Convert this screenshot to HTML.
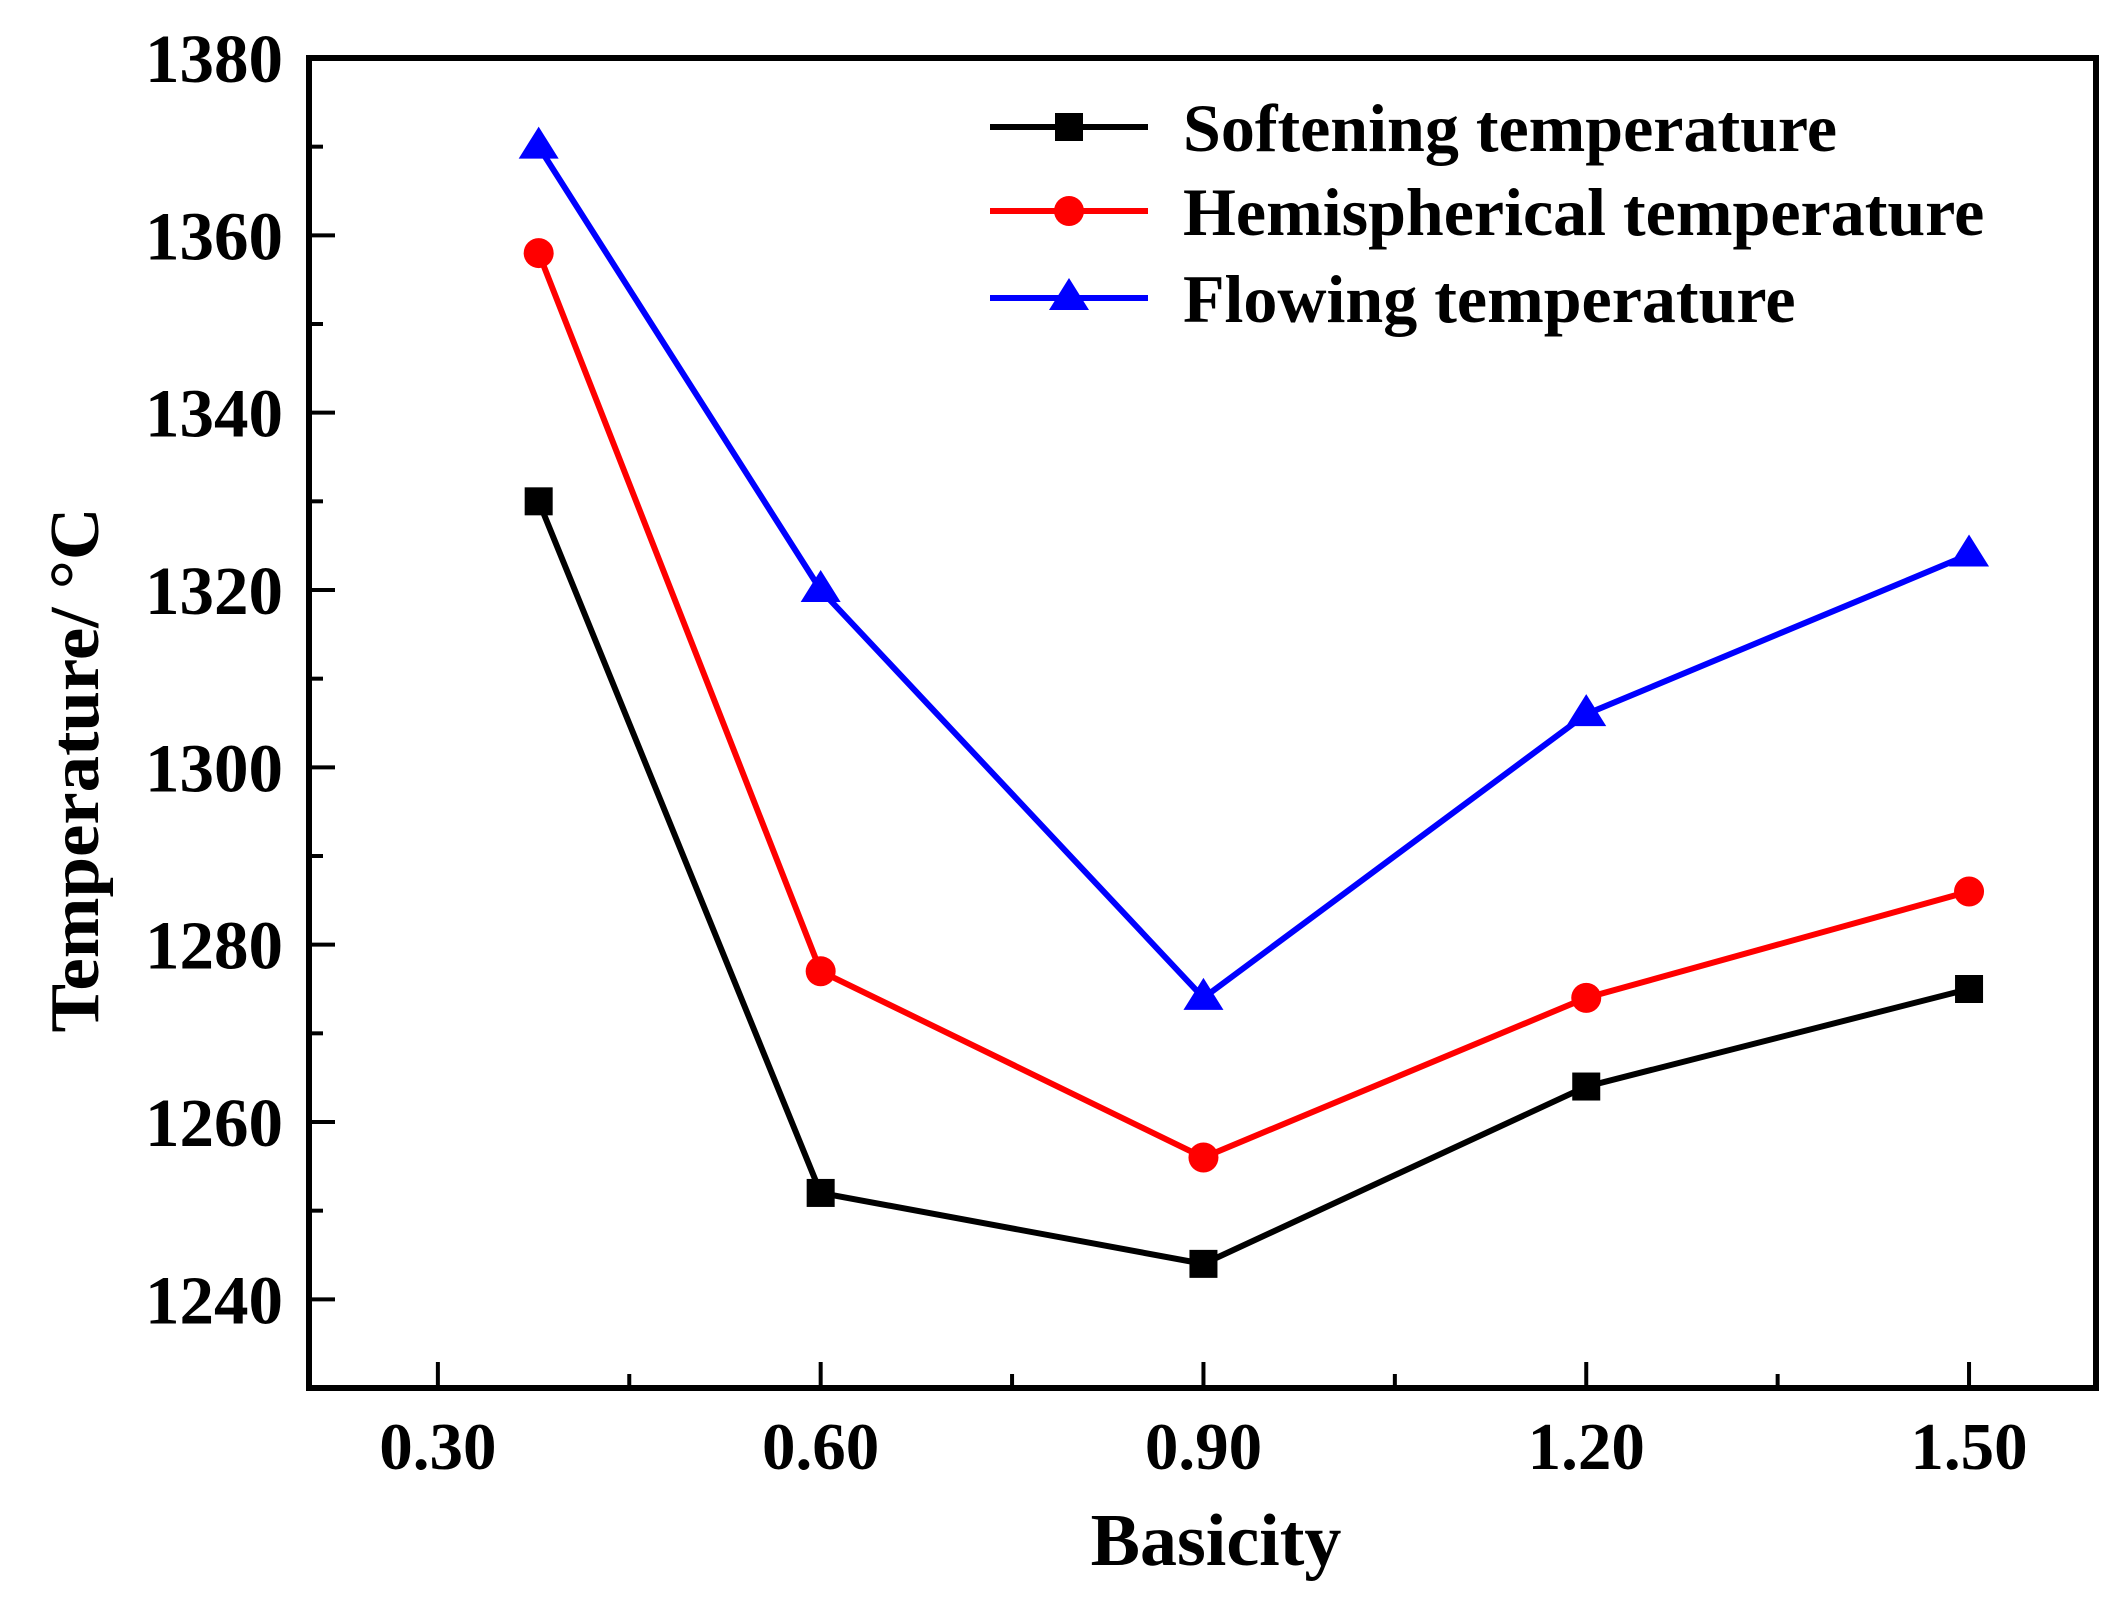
<!DOCTYPE html>
<html><head><meta charset="utf-8"><style>
html,body{margin:0;padding:0;background:#fff;}
svg{display:block;font-family:"Liberation Serif",serif;font-weight:bold;}
</style></head><body>
<svg id="chart" width="2125" height="1615" viewBox="0 0 2125 1615" xmlns="http://www.w3.org/2000/svg">
<rect x="309" y="58" width="1787" height="1330" fill="none" stroke="#000" stroke-width="6"/>
<g id="axes"></g>
<g id="series"></g>
<text x="1216" y="1565" font-size="74" text-anchor="middle">Basicity</text>
<text transform="translate(98,770) rotate(-90)" font-size="70" text-anchor="middle" textLength="525" lengthAdjust="spacingAndGlyphs">Temperature/ °C</text>
<g id="legend"></g>
</svg>
<script>
const categories = [0.379, 0.60, 0.90, 1.20, 1.50];
const softening = [1330, 1252, 1244, 1264, 1275];
const hemispherical = [1358, 1277, 1256, 1274, 1286];
const flowing = [1370, 1320, 1274, 1306, 1324];
const xTicks = [0.30, 0.60, 0.90, 1.20, 1.50];
const xTickLabels = ["0.30", "0.60", "0.90", "1.20", "1.50"];
const yTicks = [1240, 1260, 1280, 1300, 1320, 1340, 1360, 1380];
const seriesNames = ["Softening temperature", "Hemispherical temperature", "Flowing temperature"];

const NS = "http://www.w3.org/2000/svg";
const X0 = 0.199, X1 = 1.5995, PL = 309, PR = 2096;
const Y0 = 1230, Y1 = 1380, PB = 1388, PT = 58;
function xs(v){ return PL + (v - X0) / (X1 - X0) * (PR - PL); }
function ys(v){ return PB - (v - Y0) / (Y1 - Y0) * (PB - PT); }
function mk(tag, attrs, parent){ const e = document.createElementNS(NS, tag); for (const k in attrs) e.setAttribute(k, attrs[k]); parent.appendChild(e); return e; }

const axes = document.getElementById('axes');
xTicks.forEach((t, i) => {
  const x = xs(t);
  const tk = mk('line', {x1:x, x2:x, y1:PB, y2:PB-26, stroke:'#000', 'stroke-width':4}, axes);
  
  
  const lb = mk('text', {x:x, y:1469, 'font-size':67, 'text-anchor':'middle'}, axes);
  lb.textContent = xTickLabels[i];
  
  
  if (i < xTicks.length - 1) {
    const mx = xs(t + 0.15);
    const mt = mk('line', {x1:mx, x2:mx, y1:PB, y2:PB-14, stroke:'#000', 'stroke-width':4}, axes);
    
    
  }
});
yTicks.forEach((t, i) => {
  const y = ys(t);
  const tk = mk('line', {x1:PL, x2:PL+26, y1:y, y2:y, stroke:'#000', 'stroke-width':4}, axes);
  
  
  const lb = mk('text', {x:283, y:y+24, 'font-size':69, 'text-anchor':'end'}, axes);
  lb.textContent = String(t);
  
  
  if (i < yTicks.length - 1) {
    const my = ys(t + 10);
    const mt = mk('line', {x1:PL, x2:PL+14, y1:my, y2:my, stroke:'#000', 'stroke-width':4}, axes);
    
    
  }
});

function marker(type, x, y, color, parent){
  let m;
  if (type === 'square') m = mk('rect', {x:x-14, y:y-14, width:28, height:28, fill:color}, parent);
  else if (type === 'circle') m = mk('circle', {cx:x, cy:y, r:15, fill:color}, parent);
  else m = mk('polygon', {points:`${x},${y-20} ${x-20},${y+12} ${x+20},${y+12}`, fill:color}, parent);
  return m;
}

const defs = [
  {vals: softening, color:'#000', type:'square', name:'softening'},
  {vals: hemispherical, color:'#ff0000', type:'circle', name:'hemispherical'},
  {vals: flowing, color:'#0000ff', type:'triangle', name:'flowing'}
];
const sg = document.getElementById('series');
defs.forEach(d => {
  const pts = d.vals.map((v, i) => xs(categories[i]) + ',' + ys(v)).join(' ');
  const pl = mk('polyline', {points:pts, fill:'none', stroke:d.color, 'stroke-width':6}, sg);
  
  
  d.vals.forEach((v, i) => {
    const m = marker(d.type, xs(categories[i]), ys(v), d.color, sg);
    
    
  });
});

const lg = document.getElementById('legend');
const legY = [127, 211, 298];
defs.forEach((d, i) => {
  const y = legY[i];
  const ln = mk('line', {x1:990, x2:1148, y1:y, y2:y, stroke:d.color, 'stroke-width':6}, lg);
  
  
  const m = marker(d.type, 1069, y, d.color, lg);
  
  
  const t = mk('text', {x:1183, y:y+24, 'font-size':68}, lg);
  t.textContent = seriesNames[i];
  
  
});
</script>
</body></html>
